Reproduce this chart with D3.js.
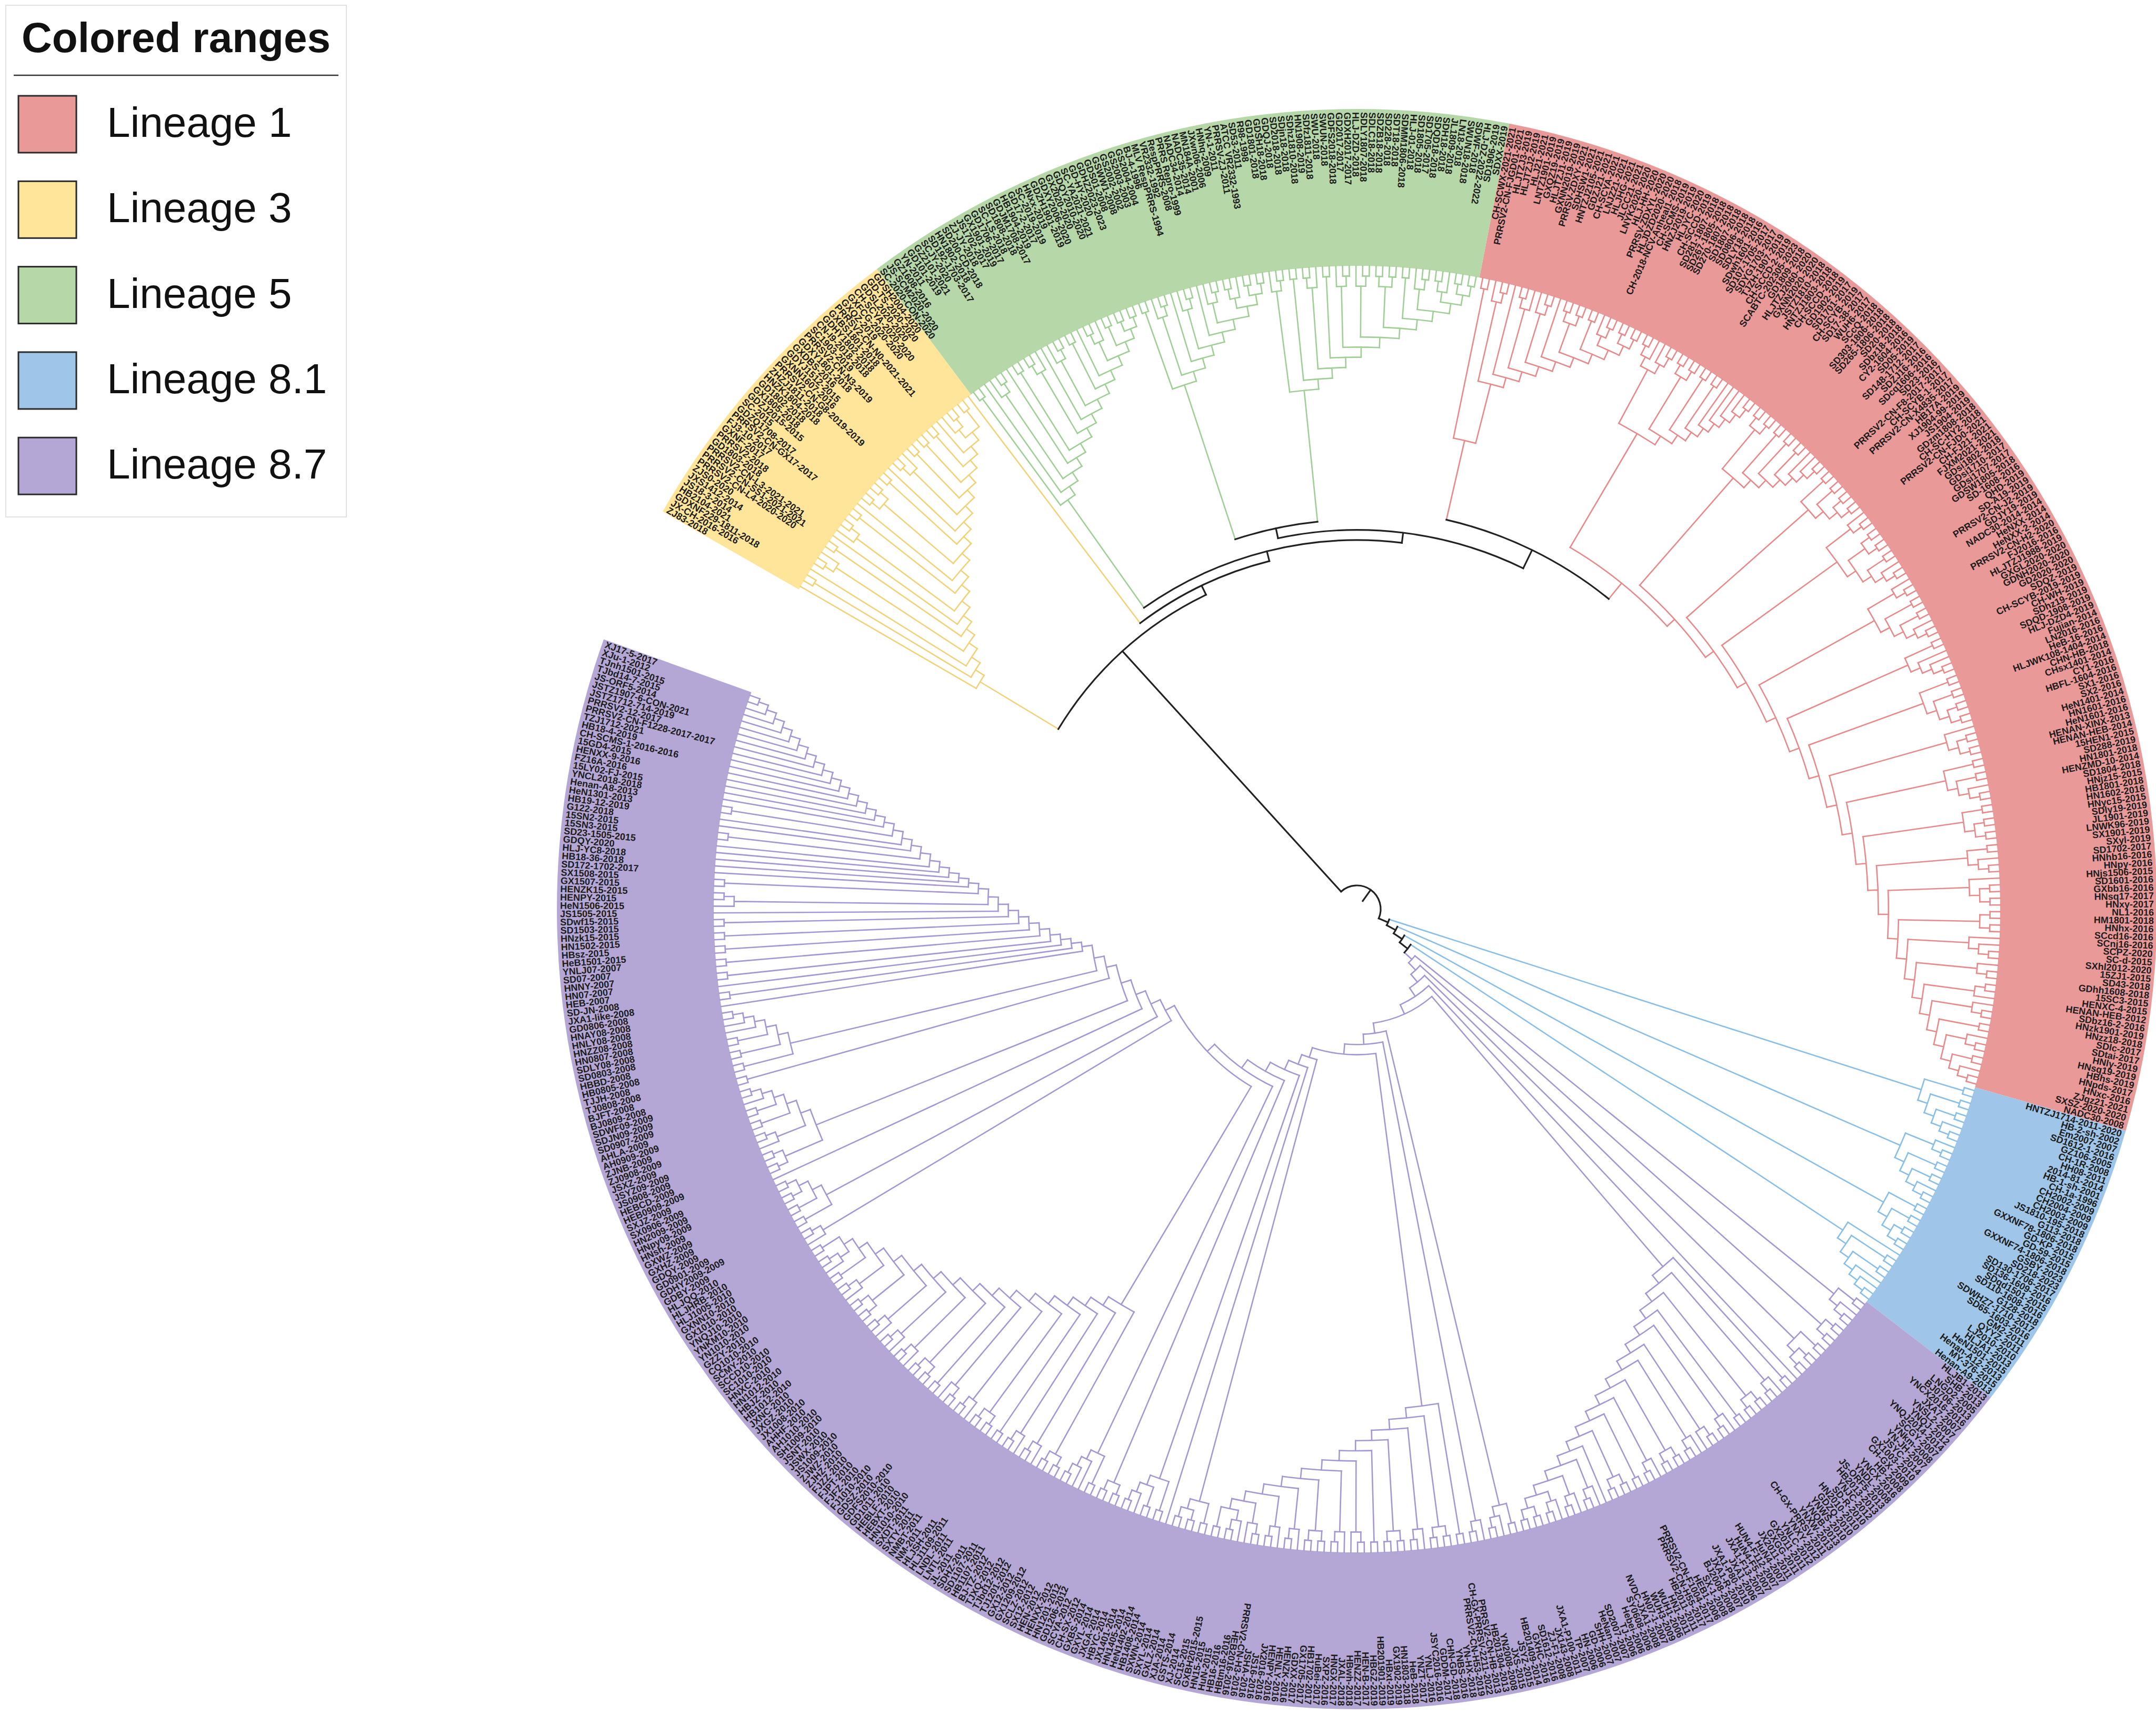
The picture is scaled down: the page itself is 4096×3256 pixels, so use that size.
<!DOCTYPE html>
<html>
<head>
<meta charset="utf-8">
<script src="https://cdn.jsdelivr.net/npm/d3@7"></script>
<style>
  body { margin: 0; background: #fff; }
  svg { display: block; }
</style>
</head>
<body>
<div id="chart"></div>
<script>
// lineages, in legend order
var lineageNames = ["Lineage 1", "Lineage 3", "Lineage 5", "Lineage 8.1", "Lineage 8.7"];
var rangeColors = ["#ea9999", "#ffe599", "#b6d7a8", "#9fc5e8", "#b4a7d6"];
var branchColors = ["#e88a8c", "#f1d277", "#9fcf94", "#87bfe8", "#a597d4"];

// backbone of the tree. Slot names are filled with the lineage clades below,
// ":n" gives a node depth (in levels above the tips) where the figure shows a longer stem
var treeSkeleton = "((L3,(L3x,(L5a,((L5b1,L5b2):25,(L1a:16,L1b):24):26):27):28):29,(L81a,(L81b,(L81c,(L81d,L87)))))";

// every array is a ladder: item 1 hangs off the deepest node, the last item off the shallowest.
// items are small newick clades (or nested ladders). Clockwise order.
var lineage3 = [
  "ZJ83-2018",
  "(JX-CH-2016-2016,GDXNF229-1811-2018)",
  "HB2104-2021",
  "((JS18-3-2014,JXS1412-2014),ZJS0-2020)",
  "(PRRSV2-CN-L4-2020-2020,PRRSV2-CN-SS1-2021-2021)",
  "PRRSV2-CN-L3-2021-2021",
  "(GD1803-2018,(PRRSV2-2018,GXNF-2017))",
  "(FJ3-10-2017,PRRSV2-CN-GX17-2017)",
  "GDZQ1708-2017",
  "((SC-2015,GDZJ2015-2015),(GX1805-2018,GD1802-2018))",
  "(HNZK1804-2018,ZHZJ1811-2018)",
  "PRRSV2-CN-G8-2019-2019",
  "((GXNN1607-2016,GDYJ1512-2015),GXDBS-2016)",
  "(GDXY1801-2018,PRRSV2-CN-N3-2019)",
  "(SC1903-2019,CN-I9-2018-2018)",
  "(GDHY1802-2018,GXBS1801-2018)",
  "PRRSV2-CN-N0-2021-2021",
  "(GXQZ-2019,(GXFCG-2020-2020,CH-SCYA-2020-2020))",
  "(GDSL2020-2020,GD-TS-2020-2020)"
];
var lineage3Outlier = "GDSH2004-2020";

var lineage5Left = [
  "(SC-2020-CON-2020,JS-SCM2020-2020)",
  "GZ1608-2016",
  "(YN-2011,(GD101-2019,GZ2101-2021))",
  "SCJY-2020",
  "(SD192-1703-2017,HN1802-2018)",
  "((SD200-CD-2018,ZJ-JY-2018),JS1702-2017)",
  "GX1901-2019",
  "(GD1706-2017,(SC-LS-2018,SD1808-2018))",
  "(GDJM1708-2017,HB1904-2019)",
  "GD17-2-2017",
  "((SC-2019-2019,HNxx-2019),GDZH1901-2019)",
  "(GDXY2006-2020,GX2020-2020)",
  "(GDQY2010-2020,SC-YA2021-2021)",
  "(GD-HY-2020,GDHZ2023-2023)"
];
var lineage5RightA = [
  "(GDS01-2008,GSWW1-2008)",
  "(GS2002-2002,(GS2003-2003,GS2004-2004))",
  "BJ-4-1996",
  "(MLV RespPRRS-1994,(VR2332-1992,RespPRRS-2008))",
  "PRRS Repro-1999",
  "(NADC34-2014,(NADC35-2014,MN184A-2001))",
  "((JXwn06-2006,HNhq-2009),YN-1-2011)",
  "(PRRSV-ZJ-2011,ATCC VR2332-1993)",
  "(SD53-2011,R98-1998)"
];
var lineage5RightB = [
  "(GD1801-2018,(GDSH18-2018,GDQJ-2018))",
  "(SD2018-2018,SDjn18-2018)",
  "((SDhz1810-2018,HN1908-2019),SDfz1811-2018)",
  "(SWU-2018,SWUN-2018)",
  "(GDFS2018-2018,(GD2017-2017,GDXH2017-2017))",
  "(HLJ-DZD-2018,(SDLY1807-2018,SDLC18-2018))",
  "((SDZB18-2018,SD228-2018),(SDT18-2018,SDMM1806-2018))",
  "(HLJ-01-2018,SD1805-2018)",
  "(SD1705-2017,(SDQD18-2018,SDH18-2018))",
  "((JL1809-2018,LN18-2018),SWUN18-2018)",
  "(SDWF-2018,HLJ-DZ-2022-2022)",
  "(SD1906-2019,SDXX-2019)"
];

var lineage1A = [
  "(CH-SCWX-2021-2021,PRRSV2-CN-FJGD01-2021)",
  "(HLJTZJ3-2019,(HLJTZJ2-2019,HLJ21-2021))",
  "LNTZ1901-2019",
  "((GXQZ19-2019,HLJTZJ1-2019),GXNN2019-2019)",
  "(PRRSV-ZDXY-2021,(SDHSW1-2021,HNTZJ2105-2021))",
  "GDZJ21-2021",
  "((CH-SCYA-2021,LNJZ21-2021),(HLJHG-2021,JLCC21-2021))",
  "(LNYK2020-2020,HLJ-HH-2020)",
  "(PRRSV-ZDXYL-2020,(HLJDZD2020-2020,CH-2018-NCV-Anheal1-2018))",
  "(CH-SCMS-2019,HNZJ2019-2019)",
  "(HLJYC-2020,CH-SCCD-2019)"
];
var lineage1B = [
  "((((SD281-1807-2018,SD267-1805-2018),SD270-1807-2018),(SD1807-2018,(SD0806-2018,SDLY18-2018))),(((SDwh1601-2016,SD107-1705-2017),(SDYG1703-2017,TJZH-1907-2019)),((CH-SCCD-2-2019,SCABTC-202305-2023),((GD1809-2018,HLJTZJ2060-2020),(GXNN2020-2020,(JSTZ1810-2018,(HNTZJ1803-2018,(CH-SCCD-2018,(GD1902-2019,SD1701-2017)))))))))",
  "(((CH-SCYB-2019,SD17-38-2017),(WUH6-2017,SCcQ-2018)),((SD303-1806-2018,SD265-1806-2018),((SD20-2018,SDbz18-2018),((CY2-1604-2016,SD05-2019),(SD148-1712-2017,(SDZJ16-2016,(SDcq1606-2016,SD23-2016)))))))",
  "((PRRSV2-CN-F8-2017-2017,CH-SCYB-1-2017),((PRRSV2-CN-X4835-2017,HB17A-2019),((XJ1904-99-2019,JS1904-2019),(GDzm1808-2018,CH-SC-HY2-2018))))",
  "((PRRSV2-CN-FJD0-2021,(CH-FJ21-2021,FJXM2021-2021)),(((GDsi1802-2018,GDsi1710-2017),(GDsi1707-2017,GDSW1805-2018)),((SD-1608-2016,QHD-2019),(SD-A19-2019,(PRRSV2-CN-J2-2019,GDJY19-2019)))))",
  "((NADC30-2014-2014,(HeNXX-2014,HeNXX-2-2014)),((PRRSV2-CN-H2-2020,FJ2016-2016),((HLJTZJ1988-2019,GXGL2020-2020),(GDNH2020-2020,(GD2020-2020,SDQZ-2019)))))",
  "((CH-SCYB-2019-2019,CH-WH-2019),(SDhz19-2019,(SDQD-1908-2019,(HLJ-DZD4-2019,Fujian-2014))))",
  "((LN2016-2016,HeB-16-2016),((HLJWK108-1404-2014,CHN-HB-2018),((CHsx1401-2014,CY1-2016),(HBFL-1604-2016,SX1-2016))))",
  "(SX2-2016,((HeN1401-2014,HN1601-2016),(HeN1601-2016,HENAN-XINX-2013)))",
  "((HENAN-HEB-2014,15HEN1-2015),((SD288-2019,HN1801-2018),(HENZMD-10-2014,(SD1804-2018,HNjz15-2015))))",
  "((HB1801-2018,HN1602-2016),((HNyc15-2015,SDly19-2019),(JL1901-2019,LNWK96-2019)))",
  "((SX1901-2019,SXyl-2019),(SD1702-2017,(HNhb16-2016,HNpy-2016)))",
  "(HNjs1506-2015,((SD1601-2016,GXbb16-2016),(HNsq17-2017,HNxy-2017)))",
  "((NL1-2016,HM1801-2018),(HNhx-2016,SCcd16-2016))",
  "(SCnj16-2016,(SCPZ-2020,(SC-d-2015,SXhl2012-2020)))",
  "(15ZJ1-2015,(SD43-2018,GDhh1608-2018))",
  "((15SC3-2015,HENXC-4-2015),HENAN-HEB-2012)",
  "(SDbz16-2-2016,(HNzk1901-2019,HNzz18-2018))",
  "(SDlc-2017,SDtai-2017)",
  "(HNly-2019,(HNsq19-2019,HBhs-2019))",
  "(HNpds-2017,HNxc-2016)",
  "ZJqz21-2021",
  "(SXSZ-2020-2020,NADC30-2008)"
];

// Lineage 8.1: four clades, each on its own long branch off the basal chain
var lineage81 = [
  "((HNTZJ1714-2011-2020,HB-2-sh-2002),((Em2007-2007,SD1612-1-2016),((GZ106-2005,CH-1R-2008),(HH08-2011,(2014-81-2014,HB-1-sh-2001)))))",
  "((CH-1a-1996,(CH2002-2009,CH2004-2009)),((CH2003-2009,JS1810-195-2018),((G113-2018,GXXNF78-1806-2018),(GD-KP-2015,(GD-59-2015,GXXNF74-1806-2018)))))",
  "((GSBY-2023,SD218-2023),((SD130-1706-2017,SD136-1609-2016),((SDqd1501-2015,SD110-1608-2016),(G128-2018,SDWHZ7-1710-2017))))",
  "(SD65-1603-2016,((GM2-2011,QYYZ-2011),((LJ2010-2010,HLJA1-2013),(HeN1501-2015,(Henan-A12-2013,(MY-376-2015,Henan-A9-2013))))))"
];

var lineage87 = [
  "((HLJB1-2013,SHB-2013),(LNGD2-2005,(BJ0706-2013,YNCX2016-2016)))",
  "((JXA7-2007,YNSL2-2007),(YNQJ-2012,YNQJ2014-2014))",
  "((SCGY-2007,YNkm-2008),((YN-JH-2007,JSYC-2014),(GX1003-2010,CH-GX-2009)))",
  "HB-2008",
  ["(YNCX-2016,YNDL-2008)", "(JS-ORF5-2013,(HB2013-2013,YNJC-2012))", "((SD-R-2010,HN2010-2010),(GDZQ-2010,YNWS-2010))",
   "(YNQB-2013,YNXW-2013)", "(CH-GX-PRRSV-2011,(YNXY-2012,YNLC-2012))", "((GX2011-2011,GXGG-2011),JX2011-2011)",
   "(HuN4-2007,(HUN4-F112-2007,HuN4-F5-2007))", "((JXA1-F13-2007,JXA1-2006),(JXA1-P80-2010,JXA1-R-2007))",
   "(BJ2008-2008,(SX-1-2008,HEB1-2006))", "(PRRSV2-CN-F1004-2017,PRRSV2-CN-H55-2017)",
   "((HB2011-2011,HN1-2011),(WUH1-2006,WUH3-2009))", "HN07-1-2007", "(NVDC-JXA1-2008,(SY0608-2006,Hebei-2006))",
   "(TJ-2006,(SD2007-2007,HeNan-2007))", "(SHH-2007,(GD-2006,HN-2006))", "(TP-2007,JXA1-P100-2011)", "(JX143-2008,ZJ-F1-2008)"],
  "((SD1612-2016,GXHC-2016),(HB201409-2014,(JSYZ-2015,JXS-2015)))",
  "(YN2008-2008,(HB201304-2013,PRRSV2-CN-HB-2013))",
  ["(CH-GX-PRRSV-2211-2022,PRRSV2-CN-H53-2019)", "((YN-HX-2018,YNBS-2016),(CHN-GD-2018,GDDM-2017))",
   "(JSYC2016-2016,(YNLJ-2016,YNZT-2017))", "((HeB-2018,HN1803-2018),(GX1902-2019,HBxt-2019))",
   "(HB201901-2019,HBGZ-2019)", "((HEN-B-2017,HENZZ-2017),HBwh-2018)", "(JXAL-2018,(HNGX-2017,SXPZ-2016))",
   "((HuBei-2017,HB1702-2017),(GX1705-2017,GDXX-2017))", "(HENZK-2016,(HENLY-2016,HENPY-2016))",
   "(JX2016-2016,(JS16-2016,JSHA-2016))", "((PRRSV2-CN-H3-2016,HEB2016-2016),HBtm16-2016)",
   "(HB16-2016,(HuN-2015,HN15-2015))", "(GXBH2015-2015,SC15-2015)"],
  "((XJ-2014,GSTS-2014),((XJA-2014,GXLZ-2014),(SXYL-2014,SXWN-2014)))",
  "HB1408-2014",
  "((HeN1402-2014,HN1405-2014),((JX1401-2014,HBYC-2014),(JXGA-2014,(GXYL-2014,GXBS-2014))))",
  "((CH-SX-2012,SCYA-2012),(GD1206-2012,HN1201-2012))",
  "((HENXX-2012,HEN-2012),(SX12-2012,(SCLZ-2012,(GX1209-2012,GX12-2012))))",
  ["((TJ1201-2012,TJbd12-2012),(TJXQ-2012,BJ-TZ-2012))", "(HB1107-2011,(SD1107-2011,SDHZ-2011))",
   "(JL-2011,(LNTL-2011,LNDL-2011))", "(HLJ1109-2011,HLJSH-2011)", "((NM-2011,NMBT-2011),(SXTY-2011,SXDT-2011))",
   "(HN1010-2010,(HEBXT-2010,HEBLF-2010))", "((GD1011-2010,GDFS2010-2010),GDSZ-2010)", "(FJ1010-2010,FJFZ-2010)",
   "((FJPT-2010,FJZZ-2010),(ZJHZ-2010,ZJWZ-2010))", "(JS1009-2010,(JSWX-2010,JSNT-2010))",
   "(SH1009-2010,(AH1010-2010,AHHF-2010))", "(JX1008-2010,(JXGZ-2010,JXNC-2010))",
   "((HB1012-2010,HBJZ-2010),(HN1012-2010,HNXC-2010))", "(SC1010-2010,(SCCD10-2010,SCMY-2010))",
   "(CQ1010-2010,GZZY-2010)", "(YN1010-2010,(YNKM10-2010,YNQJ10-2010))", "(GX1010-2010,GXNN10-2010)"],
  "(HLJ1005-2010,(HLJHRB-2010,HLJQQ-2010))",
  "((GDBY-2009,GDHY2009-2009),((GD0901-2009,GDQY-2009),((GXHZ-2009,GXWZ-2009),(HNsh-2009,HNpy09-2009))))",
  "HN2009-2009",
  "(((SX0906-2009,SXJZ-2009),(HEB0909-2009,HEBCD-2009)),((JS0908-2009,(JSYZ09-2009,JSXZ-2009)),((ZJ0908-2009,ZJNB-2009),((AH0909-2009,AHLA-2009),(SD0907-2009,(SDJN09-2009,SDWF09-2009))))))",
  "(BJ0809-2008,BJFT-2008)",
  "((TJ0808-2008,TJJH-2008),((HB0805-2008,HBBD-2008),((SD0803-2008,SDLY08-2008),(HN0807-2008,(HNZZ08-2008,(HNLY08-2008,HNAY08-2008))))))",
  "GD0806-2008",
  "(JXA1-like-2008,SD-JN-2008)",
  "HEB-2007",
  "(HN07-2007,HNNY-2007)",
  "(SD07-2007,YNLJ07-2007)",
  // comb next to the gap
  ["(HeB1501-2015,HBsz-2015)", "(HN1502-2015,HNzk15-2015)", "(SD1503-2015,SDwf15-2015)", "JS1505-2015",
   "(HeN1506-2015,(HENPY-2015,HENZK15-2015))", "(GX1507-2015,SX1508-2015)", "SD172-1702-2017", "HB18-36-2018",
   "HLJ-YC8-2018", "GDQY-2020", "SD23-1505-2015", "(15SN3-2015,15SN2-2015)", "G122-2018", "HB19-12-2019",
   "(HeN1301-2013,Henan-A8-2013)", "YNCL2018-2018", "15LY02-FJ-2015", "FZ16A-2016", "HENXX-9-2016",
   "15GD4-2015", "CH-SCMS-1-2016-2016", "HB18-4-2019", "TZJ1712-2021", "PRRSV2-CN-F1228-2017-2017",
   "PRRSV2-12-2017", "JSTZ1712-714-2019", "JSTZ1907-6-CON-2021", "JS-ORF5-2014", "TJbd14-7-2015",
   "TJnh1501-2015", "(XJu-1-2012,XJ17-5-2017)"]
];

// ---- layout -------------------------------------------------------------
var width = 4096, height = 3256;
var cx = 2578, cy = 1727;
var rootRadius = 45, tipRadius = 1222, rangeOuter = 1520, labelRadius = 1514, rootStub = 26;
var arcStart = 209.5, arcEnd = 560;   // degrees, clockwise from 3 o'clock

// small newick reader; names of the slots object get replaced by sub trees
function parseNewick(s, slots) {
  var i = 0;
  function node() {
    var n;
    if (s[i] === "(") {
      i++;
      var kids = [node()];
      while (s[i] === ",") { i++; kids.push(node()); }
      if (s[i] !== ")") throw new Error("newick: ) expected at " + i + " in " + s.slice(0, 40));
      i++;
      n = {children: kids};
      if (slots) n.backbone = true;
    } else {
      var j = i;
      while (i < s.length && "(),:".indexOf(s[i]) < 0) i++;
      var name = s.slice(j, i).trim();
      n = (slots && slots[name]) ? slots[name] : {name: name};
    }
    if (s[i] === ":") {
      i++;
      var k = i;
      while (i < s.length && "(),".indexOf(s[i]) < 0) i++;
      n.age = +s.slice(k, i);
    }
    return n;
  }
  var t = node();
  if (i !== s.length) throw new Error("newick: trailing text in " + s.slice(0, 40));
  return t;
}

function build(item) {
  if (Array.isArray(item)) {
    var parts = item.map(build);
    var t = parts[parts.length - 1];
    for (var k = parts.length - 2; k >= 0; k--) t = {children: [parts[k], t]};
    return t;
  }
  return parseNewick(item);
}

function tag(t, lin) {
  if (t.children) t.children.forEach(function(c) { tag(c, lin); });
  else t.lineage = lin;
  return t;
}

var slots = {
  L3: tag(build(lineage3), 1),
  L3x: tag(build(lineage3Outlier), 1),
  L5a: tag(build(lineage5Left), 2),
  L5b1: tag(build(lineage5RightA), 2),
  L5b2: tag(build(lineage5RightB), 2),
  L1a: tag(build(lineage1A), 0),
  L1b: tag(build(lineage1B), 0),
  L81a: tag(build(lineage81[0]), 3),
  L81b: tag(build(lineage81[1]), 3),
  L81c: tag(build(lineage81[2]), 3),
  L81d: tag(build(lineage81[3]), 3),
  L87: tag(build(lineage87), 4)
};

var root = d3.hierarchy(parseNewick(treeSkeleton, slots));
var leaves = root.leaves();
var step = (arcEnd - arcStart) / leaves.length;

d3.cluster().size([1, 1]).separation(function() { return 1; })(root);

root.eachAfter(function(d) {
  var h = d.children ? d3.max(d.children, function(c) { return c.level; }) + 1 : 0;
  d.level = d.data.age != null ? Math.max(d.data.age, h) : h;
  if (!d.children) d.lin = d.data.lineage;
  else {
    var l = d.children[0].lin;
    d.lin = (!d.data.backbone && d.children.every(function(c) { return c.lin === l; })) ? l : null;
  }
});

var angle = d3.scaleLinear().domain([0, 1]).range([arcStart + step / 2, arcEnd - step / 2]);
var radius = d3.scaleLinear().domain([root.level, 0]).range([rootRadius, tipRadius]);
var rad = Math.PI / 180;
function pt(a, r) { return [r * Math.cos(a * rad), r * Math.sin(a * rad)]; }
function branchColor(d) { return d.lin == null ? "#222" : branchColors[d.lin]; }

var svg = d3.select("#chart").append("svg")
  .attr("width", width).attr("height", height);
svg.append("rect").attr("width", width).attr("height", height).attr("fill", "#fff");

var g = svg.append("g").attr("transform", "translate(" + cx + "," + cy + ")");

// colored ranges
var ranges = lineageNames.map(function(name, i) {
  var a = d3.extent(leaves.filter(function(d) { return d.lin === i; }), function(d) { return angle(d.x); });
  return {i: i, a0: a[0] - step / 2, a1: a[1] + step / 2};
});
var band = d3.arc().innerRadius(tipRadius).outerRadius(rangeOuter);
g.append("g").selectAll("path").data(ranges).join("path")
  .attr("d", function(d) { return band({startAngle: (d.a0 + 90) * rad, endAngle: (d.a1 + 90) * rad}); })
  .attr("fill", function(d) { return rangeColors[d.i]; });

// branches: radial piece for every node, arc for every inner node
var nodes = root.descendants();
var colored = nodes.filter(function(d) { return d.lin != null; });
var black = nodes.filter(function(d) { return d.lin == null; });

function branchPath(d) {
  var p = d3.path();
  var a = angle(d.x), r = radius(d.level);
  var r0 = d.parent ? radius(d.parent.level) : r - rootStub;
  var s0 = pt(a, r0), s1 = pt(a, r);
  p.moveTo(s0[0], s0[1]);
  p.lineTo(s1[0], s1[1]);
  if (d.children) {
    var a0 = angle(d.children[0].x), a1 = angle(d.children[d.children.length - 1].x);
    var c0 = pt(a0, r);
    p.moveTo(c0[0], c0[1]);
    p.arc(0, 0, r, a0 * rad, a1 * rad, false);
  }
  return p.toString();
}

var branches = g.append("g").attr("fill", "none").attr("stroke-linecap", "square");
branches.selectAll("path.c").data(colored).join("path")
  .attr("class", "c")
  .attr("d", branchPath)
  .attr("stroke", branchColor)
  .attr("stroke-width", 2.6);
branches.selectAll("path.b").data(black).join("path")
  .attr("class", "b")
  .attr("d", branchPath)
  .attr("stroke", "#222")
  .attr("stroke-width", 3.2);

// leaf labels, outer end aligned on the rim
function flipped(d) {
  var m = ((angle(d.x) % 360) + 360) % 360;
  return m > 100 && m < 280;
}
g.append("g")
  .attr("font-family", "'Liberation Sans', Arial, sans-serif")
  .attr("font-weight", "bold")
  .attr("font-size", 18)
  .attr("fill", "#1c1c1c")
  .selectAll("text").data(leaves).join("text")
  .attr("transform", function(d) {
    return "rotate(" + angle(d.x) + ")translate(" + labelRadius + ",0)" + (flipped(d) ? "rotate(180)" : "");
  })
  .attr("text-anchor", function(d) { return flipped(d) ? "start" : "end"; })
  .attr("dy", "0.35em")
  .text(function(d) { return d.data.name; });

// legend
var legend = svg.append("g").attr("font-family", "'Liberation Sans', Arial, sans-serif");
legend.append("rect")
  .attr("x", 11).attr("y", 10).attr("width", 647).attr("height", 972)
  .attr("fill", "#fff").attr("stroke", "#e2e2e2").attr("stroke-width", 2);
legend.append("text")
  .attr("x", 334.5).attr("y", 99)
  .attr("text-anchor", "middle")
  .attr("font-size", 80).attr("font-weight", "bold").attr("fill", "#111")
  .text("Colored ranges");
legend.append("line")
  .attr("x1", 26).attr("x2", 643).attr("y1", 143).attr("y2", 143)
  .attr("stroke", "#333").attr("stroke-width", 2.5);
var item = legend.selectAll("g.item").data(lineageNames).join("g")
  .attr("class", "item")
  .attr("transform", function(d, i) { return "translate(0," + (182 + i * 162.3) + ")"; });
item.append("rect")
  .attr("x", 35).attr("y", 0).attr("width", 110).attr("height", 108)
  .attr("fill", function(d, i) { return rangeColors[i]; })
  .attr("stroke", "#2a2a2a").attr("stroke-width", 3);
item.append("text")
  .attr("x", 203).attr("y", 78)
  .attr("font-size", 80).attr("fill", "#111")
  .text(function(d) { return d; });
</script>
</body>
</html>
